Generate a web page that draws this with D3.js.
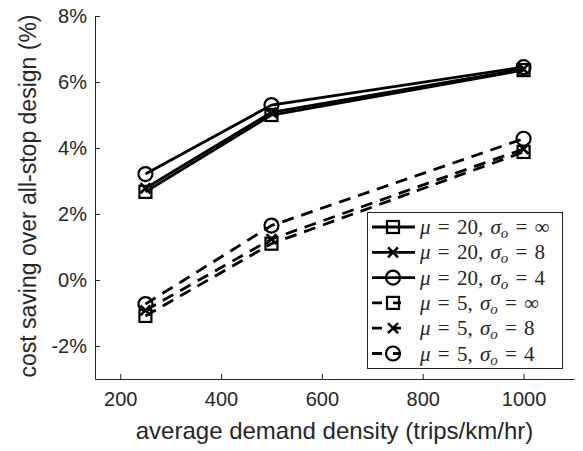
<!DOCTYPE html>
<html><head><meta charset="utf-8">
<script src="https://cdn.jsdelivr.net/npm/d3@7"></script>
<style>body{margin:0;background:#fff}svg{display:block}</style>
</head><body>
<svg id="c" width="583" height="451"></svg>
<script>
const density = [250, 500, 1000];
const mu20_inf = [2.67, 5.00, 6.36];
const mu20_8   = [2.78, 5.08, 6.39];
const mu20_4   = [3.21, 5.30, 6.45];
const mu5_inf  = [-1.09, 1.10, 3.88];
const mu5_8    = [-0.92, 1.24, 3.97];
const mu5_4    = [-0.73, 1.65, 4.28];
const xTicks = [200, 400, 600, 800, 1000];
const yTicks = [-2, 0, 2, 4, 6, 8];
const seriesNames = [
  {mu: "20", s: "∞"}, {mu: "20", s: "8"}, {mu: "20", s: "4"},
  {mu: "5", s: "∞"}, {mu: "5", s: "8"}, {mu: "5", s: "4"}
];
const series = [
  {vals: mu20_inf, dash: false, marker: "square"},
  {vals: mu20_8,   dash: false, marker: "x"},
  {vals: mu20_4,   dash: false, marker: "circle"},
  {vals: mu5_inf,  dash: true,  marker: "square"},
  {vals: mu5_8,    dash: true,  marker: "x"},
  {vals: mu5_4,    dash: true,  marker: "circle"}
];

const svg = d3.select("#c");
const x = d3.scaleLinear().domain([150, 1100]).range([95, 574]);
const y = d3.scaleLinear().domain([-3, 8]).range([379, 16]);
const axisColor = "#262626";

const line = d3.line().x((d, i) => x(density[i])).y(d => y(d));
function drawMarker(g, type, cx, cy) {
  if (type === "square") {
    g.append("rect").attr("x", cx - 6).attr("y", cy - 6).attr("width", 12).attr("height", 12)
      .attr("fill", "none").attr("stroke", "#000").attr("stroke-width", 2.2);
  } else if (type === "circle") {
    g.append("circle").attr("cx", cx).attr("cy", cy).attr("r", 7)
      .attr("fill", "none").attr("stroke", "#000").attr("stroke-width", 2.2);
  } else {
    const r = 5;
    g.append("path").attr("d", `M${cx-r},${cy-r}L${cx+r},${cy+r}M${cx-r},${cy+r}L${cx+r},${cy-r}`)
      .attr("stroke", "#000").attr("stroke-width", 2.6);
  }
}
const plot = svg.append("g");
series.forEach(s => {
  plot.append("path").attr("d", line(s.vals)).attr("fill", "none")
    .attr("stroke", "#000").attr("stroke-width", 2.8)
    .attr("stroke-dasharray", s.dash ? "12,8" : null);
  s.vals.forEach((v, i) => drawMarker(plot, s.marker, x(density[i]), y(v)));
});

const xAxis = svg.append("g").attr("transform", "translate(0,379)")
  .call(d3.axisBottom(x).tickValues(xTicks).tickSizeInner(-5).tickSizeOuter(0).tickPadding(13)
    .tickFormat(d3.format("d")));
const yAxis = svg.append("g").attr("transform", "translate(95,0)")
  .call(d3.axisLeft(y).tickValues(yTicks).tickSizeInner(-5).tickSizeOuter(0).tickPadding(8)
    .tickFormat(d => d + "%"));
[xAxis, yAxis].forEach(a => {
  a.select(".domain").attr("stroke", axisColor).attr("stroke-width", 1);
  a.selectAll(".tick line").attr("stroke", axisColor);
  a.selectAll(".tick text").attr("fill", axisColor)
    .style("font-family", "Liberation Sans, Arial, sans-serif").style("font-size", "20px");
});

svg.append("text").attr("x", (95 + 574) / 2).attr("y", 439).attr("text-anchor", "middle")
  .attr("fill", axisColor).style("font-family", "Liberation Sans, Arial, sans-serif").style("font-size", "24px")
  .text("average demand density (trips/km/hr)");
svg.append("text").attr("transform", "translate(36,196) rotate(-90)").attr("text-anchor", "middle")
  .attr("fill", axisColor).style("font-family", "Liberation Sans, Arial, sans-serif").style("font-size", "23px")
  .text("cost saving over all-stop design (%)");

const lg = svg.append("g");
lg.append("rect").attr("x", 367.5).attr("y", 212.5).attr("width", 195).attr("height", 156)
  .attr("fill", "#fff").attr("stroke", axisColor).attr("stroke-width", 1);
series.forEach((s, i) => {
  const cy = 227 + i * 25.3;
  lg.append("line").attr("x1", 372).attr("x2", 415).attr("y1", cy).attr("y2", cy)
    .attr("stroke", "#000").attr("stroke-width", 2.8)
    .attr("stroke-dasharray", s.dash ? "10,11,8,100" : null);
  drawMarker(lg, s.marker, 393, cy);
  const t = lg.append("text").attr("x", 420).attr("y", cy + 7)
    .attr("fill", axisColor).style("font-family", "Liberation Serif, Times New Roman, serif")
    .style("font-size", "21px").style("word-spacing", "2px");
  const n = seriesNames[i];
  t.append("tspan").style("font-style", "italic").text("μ");
  t.append("tspan").text(" = " + n.mu + ", ");
  t.append("tspan").style("font-style", "italic").text("σ");
  t.append("tspan").style("font-style", "italic").style("font-size", "15px").attr("dy", 4).text("o");
  t.append("tspan").attr("dy", -4).text(" = " + n.s);
});
</script>
</body></html>
